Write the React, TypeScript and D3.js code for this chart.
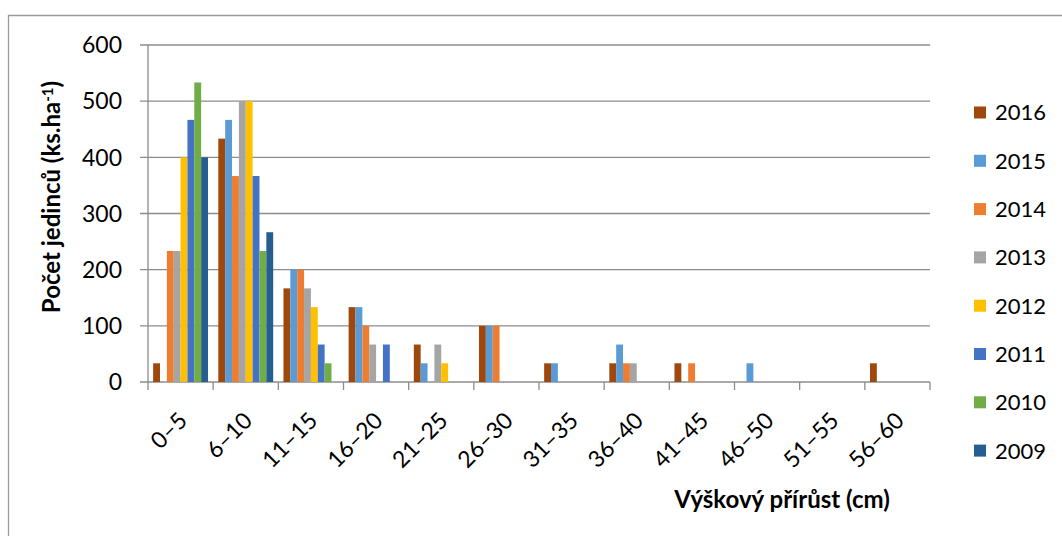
import React, { useEffect, useRef } from "react";
import * as d3 from "d3";

const categories = ["0–5", "6–10", "11–15", "16–20", "21–25", "26–30", "31–35", "36–40", "41–45", "46–50", "51–55", "56–60"];
const years = ["2016", "2015", "2014", "2013", "2012", "2011", "2010", "2009"];
const colors = ["#9E480E", "#5B9BD5", "#ED7D31", "#A5A5A5", "#FFC000", "#4472C4", "#70AD47", "#255E91"];

// one array per year, values per category (ks.ha-1)
const v2016 = [33.3, 433.3, 166.7, 133.3, 66.7, 100, 33.3, 33.3, 33.3, 0, 0, 33.3];
const v2015 = [0, 466.7, 200, 133.3, 33.3, 100, 33.3, 66.7, 0, 33.3, 0, 0];
const v2014 = [233.3, 366.7, 200, 100, 0, 100, 0, 33.3, 33.3, 0, 0, 0];
const v2013 = [233.3, 500, 166.7, 66.7, 66.7, 0, 0, 33.3, 0, 0, 0, 0];
const v2012 = [400, 500, 133.3, 0, 33.3, 0, 0, 0, 0, 0, 0, 0];
const v2011 = [466.7, 366.7, 66.7, 66.7, 0, 0, 0, 0, 0, 0, 0, 0];
const v2010 = [533.3, 233.3, 33.3, 0, 0, 0, 0, 0, 0, 0, 0, 0];
const v2009 = [400, 266.7, 0, 0, 0, 0, 0, 0, 0, 0, 0, 0];
const seriesValues = [v2016, v2015, v2014, v2013, v2012, v2011, v2010, v2009];

const yTicks = [0, 100, 200, 300, 400, 500, 600];

const W = 1062;
const H = 536;
const FONT = "Lato, 'Open Sans', sans-serif";

const App = () => {
  const svgRef = useRef<SVGSVGElement>(null);

  useEffect(() => {
    const margin = { top: 45, right: 132, bottom: 154, left: 148 };
    const svg = d3.select(svgRef.current);
    svg.selectAll("*").remove();

    // outer chart frame (top + left only visible)
    svg
      .append("path")
      .attr("d", `M8.5,${H + 5} V15.5 H${W + 5}`)
      .attr("fill", "none")
      .attr("stroke", "#9a9a9a")
      .attr("stroke-width", 1.3);

    const x0 = d3
      .scaleBand()
      .domain(categories)
      .range([margin.left, W - margin.right]);

    // gap width 150% -> 0.75 step of padding on each side of the group
    const x1 = d3
      .scaleBand()
      .domain(years)
      .range([0, x0.bandwidth()])
      .paddingOuter(0.75)
      .paddingInner(0);

    const y = d3
      .scaleLinear()
      .domain([0, 600])
      .range([H - margin.bottom, margin.top]);

    // horizontal grid
    svg
      .append("g")
      .selectAll("line")
      .data(yTicks)
      .enter()
      .append("line")
      .attr("x1", margin.left - 8)
      .attr("x2", W - margin.right)
      .attr("y1", (d) => y(d))
      .attr("y2", (d) => y(d))
      .attr("stroke", "#8c8c8c")
      .attr("stroke-width", 1.3);

    // bars
    const groups = svg
      .append("g")
      .selectAll("g")
      .data(categories)
      .enter()
      .append("g")
      .attr("transform", (d) => `translate(${x0(d)},0)`);

    groups
      .selectAll("rect")
      .data((d, i) => years.map((yr, j) => ({ yr, j, v: seriesValues[j][i] })))
      .enter()
      .append("rect")
      .attr("x", (d) => x1(d.yr) as number)
      .attr("width", x1.bandwidth())
      .attr("y", (d) => y(d.v))
      .attr("height", (d) => y(0) - y(d.v))
      .attr("fill", (d) => colors[d.j]);

    // y axis line
    svg
      .append("line")
      .attr("x1", margin.left)
      .attr("x2", margin.left)
      .attr("y1", y(600))
      .attr("y2", y(0))
      .attr("stroke", "#8c8c8c")
      .attr("stroke-width", 1.3);

    // x axis ticks
    const xt = categories.map((c) => x0(c) as number).concat([W - margin.right]);
    svg
      .append("g")
      .selectAll("line")
      .data(xt)
      .enter()
      .append("line")
      .attr("x1", (d) => d)
      .attr("x2", (d) => d)
      .attr("y1", y(0))
      .attr("y2", y(0) + 8)
      .attr("stroke", "#8c8c8c")
      .attr("stroke-width", 1.3);

    // y tick labels
    svg
      .append("g")
      .selectAll("text")
      .data(yTicks)
      .enter()
      .append("text")
      .attr("x", margin.left - 26)
      .attr("y", (d) => y(d))
      .attr("dy", "0.36em")
      .attr("text-anchor", "end")
      .style("font-family", FONT)
      .style("font-size", "23px")
      .attr("fill", "#000")
      .text((d) => d);

    // x tick labels, rotated
    svg
      .append("g")
      .selectAll("text")
      .data(categories)
      .enter()
      .append("text")
      .attr(
        "transform",
        (d) => `translate(${(x0(d) as number) + x0.bandwidth() / 2 + 8},${y(0) + 40}) rotate(-45)`
      )
      .attr("text-anchor", "end")
      .style("font-family", FONT)
      .style("font-size", "23px")
      .attr("fill", "#000")
      .text((d) => d);

    // axis titles
    svg
      .append("text")
      .attr("x", 782)
      .attr("y", 508)
      .attr("text-anchor", "middle")
      .style("font-family", FONT)
      .style("font-size", "24px")
      .style("font-weight", "bold")
      .text("Výškový přírůst (cm)");

    const yt = svg
      .append("text")
      .attr("transform", `translate(60,197) rotate(-90)`)
      .attr("text-anchor", "middle")
      .style("font-family", FONT)
      .style("font-size", "24px")
      .style("font-weight", "bold");
    yt.append("tspan").text("Počet jedinců (ks.ha");
    yt.append("tspan").attr("dy", "-0.5em").style("font-size", "15px").text("-1");
    yt.append("tspan").attr("dy", "0.32em").text(")");

    // legend
    const leg = svg
      .append("g")
      .selectAll("g")
      .data(years)
      .enter()
      .append("g")
      .attr("transform", (d, i) => `translate(974,${112.5 + i * 48.3})`);
    leg
      .append("rect")
      .attr("x", 0)
      .attr("y", -6)
      .attr("width", 12)
      .attr("height", 12)
      .attr("fill", (d, i) => colors[i]);
    leg
      .append("text")
      .attr("x", 21)
      .attr("y", 0)
      .attr("dy", "0.36em")
      .style("font-family", FONT)
      .style("font-size", "22px")
      .attr("fill", "#000")
      .text((d) => d);
  }, []);

  return (
    <svg
      ref={svgRef}
      width={W}
      height={H}
      style={{ position: "absolute", left: 0, top: 0, background: "#fff" }}
    ></svg>
  );
};

export default App;
